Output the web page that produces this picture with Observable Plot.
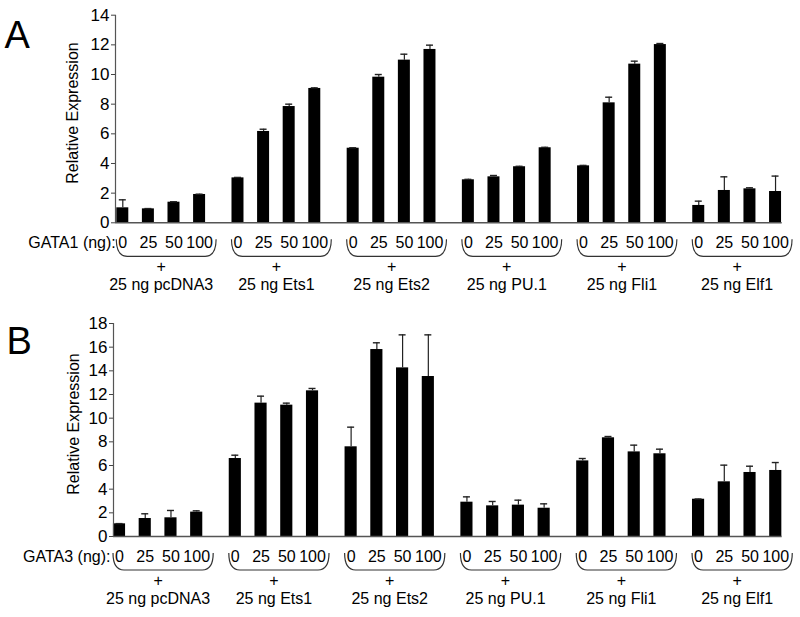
<!DOCTYPE html>
<html>
<head>
<meta charset="utf-8">
<script src="https://cdn.jsdelivr.net/npm/d3@7"></script>
<script src="https://cdn.jsdelivr.net/npm/@observablehq/plot@0.6"></script>
<style>
  html, body { margin: 0; padding: 0; background: #fff; }
  #chart { width: 800px; height: 617px; overflow: hidden; }
  #chart svg { display: block; }
</style>
</head>
<body>
<div id="chart"></div>
<script>
// ---- data ----
const constructs = ["pcDNA3", "Ets1", "Ets2", "PU.1", "Fli1", "Elf1"];
const doses = ["0", "25", "50", "100"];
const yTicksA = [0, 2, 4, 6, 8, 10, 12, 14];
const yTicksB = [0, 2, 4, 6, 8, 10, 12, 14, 16, 18];

const gata1Values = [1.01, 0.94, 1.39, 1.91,  3.03, 6.16, 7.84, 9.06,  5.03, 9.82, 10.97, 11.69,
                     2.90, 3.10, 3.78, 5.06,  3.84, 8.09, 10.70, 12.02,  1.17, 2.18, 2.29, 2.11];
const gata1Errors = [0.54, 0.02, 0.03, 0.02,  0.03, 0.15, 0.16, 0.04,  0.03, 0.18, 0.40, 0.29,
                     0.03, 0.09, 0.03, 0.03,  0.03, 0.38, 0.20, 0.07,  0.29, 0.92, 0.07, 1.04];
const gata3Values = [1.07, 1.52, 1.58, 2.06,  6.59, 11.27, 11.10, 12.31,  7.58, 15.80, 14.25, 13.52,
                     2.90, 2.59, 2.65, 2.39,  6.39, 8.34, 7.15, 6.99,  3.15, 4.62, 5.41, 5.58];
const gata3Errors = [0.02, 0.40, 0.62, 0.11,  0.28, 0.59, 0.17, 0.20,  1.66, 0.57, 2.79, 3.52,
                     0.45, 0.37, 0.42, 0.37,  0.20, 0.11, 0.57, 0.39,  0.02, 1.41, 0.53, 0.67];

const FONT = "'Liberation Sans', Arial, Helvetica, sans-serif";
const GROUP_STEP = 4.5; // slots between first bars of consecutive groups (4 bars + gap)

function buildRows(values, errors) {
  const rows = [];
  constructs.forEach((c, g) => doses.forEach((d, j) => {
    const i = g * doses.length + j;
    rows.push({construct: c, dose: d, pos: g * GROUP_STEP + j, value: values[i], err: errors[i]});
  }));
  return rows;
}

function panel(opts) {
  const rows = buildRows(opts.values, opts.errors);
  const groups = constructs.map((c, g) => ({
    construct: c,
    first: g * GROUP_STEP,
    last: g * GROUP_STEP + doses.length - 1,
    center: g * GROUP_STEP + (doses.length - 1) / 2
  }));
  const positions = rows.map(r => r.pos);
  const doseOf = new Map(rows.map(r => [r.pos, r.dose]));
  const yMax = opts.yTicks[opts.yTicks.length - 1];

  const brackets = (index, scales) => {
    const g = d3.create("svg:g");
    const y0 = scales.y(0);
    const yTop = y0 + 17, yBot = y0 + 34;
    for (const grp of groups) {
      const x0 = scales.x(grp.first) - 6;
      const x1 = scales.x(grp.last) + 17;
      g.append("path")
        .attr("fill", "none")
        .attr("stroke", "#333")
        .attr("stroke-width", 1.2)
        .attr("d", `M${x0},${yTop} Q${x0},${yBot} ${x0 + 11},${yBot} L${x1 - 11},${yBot} Q${x1},${yBot} ${x1},${yTop}`);
    }
    return g.node();
  };

  return Plot.plot({
    width: 800,
    height: opts.height,
    marginTop: opts.marginTop,
    marginBottom: opts.marginBottom,
    marginLeft: opts.marginLeft,
    marginRight: 18.3,
    style: {fontFamily: FONT, fontSize: "16px", color: "#000", background: "#fff"},
    x: {type: "linear", domain: opts.xDomain, axis: null},
    y: {domain: [0, yMax], axis: null},
    marks: [
      // bars
      Plot.rectY(rows, {x1: d => d.pos - 0.5, x2: d => d.pos + 0.5, y: "value", fill: "#000", insetLeft: 6.8, insetRight: 6.8}),
      // error bars
      Plot.ruleX(rows, {x: "pos", y1: "value", y2: d => d.value + d.err, stroke: "#222", strokeWidth: 1.2}),
      Plot.ruleY(rows, {x1: "pos", x2: "pos", y: d => d.value + d.err, stroke: "#222", strokeWidth: 1.4, insetLeft: -3.5, insetRight: -3.5}),
      // axis lines
      Plot.ruleX([opts.xDomain[0]], {y1: 0, y2: yMax, stroke: "#555", strokeWidth: 1.2}),
      Plot.ruleY([0], {stroke: "#555", strokeWidth: 1.5}),
      // y axis ticks & labels
      Plot.axisY(opts.yTicks, {tickSize: 4, tickPadding: 2, stroke: "#444", fill: "#000", fontSize: 17, label: null}),
      // y axis title
      Plot.text(["Relative Expression"], {frameAnchor: "left", textAnchor: "middle", lineAnchor: "middle", rotate: -90, dx: opts.yLabelDx, dy: -6, fill: "#000"}),
      // dose tick labels
      Plot.axisX(positions, {tickSize: 0, tickPadding: 14.3, tickFormat: p => doseOf.get(p), fill: "#000", label: null}),
      // GATA label
      Plot.text([groups[0]], {x: "first", y: () => 0, text: () => opts.gataLabel, textAnchor: "end", lineAnchor: "middle", dx: opts.gataDx, dy: 20, fill: "#000"}),
      // brackets
      brackets,
      // "+" and construct labels
      Plot.text(groups, {x: "center", y: () => 0, text: () => "+", lineAnchor: "middle", dy: 44.5, fill: "#000"}),
      Plot.text(groups, {x: "center", y: () => 0, text: d => "25 ng " + d.construct, lineAnchor: "middle", dy: 62, fill: "#000"}),
      // panel letter
      Plot.text([opts.letter], {frameAnchor: "top-left", textAnchor: "start", lineAnchor: "bottom", dx: opts.letterDx, dy: opts.letterDy, fontSize: 38, fill: "#000"})
    ]
  });
}

const chart = document.getElementById("chart");
chart.append(panel({
  values: gata1Values, errors: gata1Errors, yTicks: yTicksA,
  gataLabel: "GATA1 (ng):", letter: "A",
  height: 305, marginTop: 14.7, marginBottom: 82.7, marginLeft: 115,
  xDomain: [-0.285, 25.76], yLabelDx: -43, gataDx: -7, letterDx: -111, letterDy: 32.3
}));
chart.append(panel({
  values: gata3Values, errors: gata3Errors, yTicks: yTicksB,
  gataLabel: "GATA3 (ng):", letter: "B",
  height: 312, marginTop: 18, marginBottom: 81, marginLeft: 113,
  xDomain: [-0.233, 25.75], yLabelDx: -40, gataDx: -9, letterDx: -107, letterDy: 30
}));
</script>
</body>
</html>
